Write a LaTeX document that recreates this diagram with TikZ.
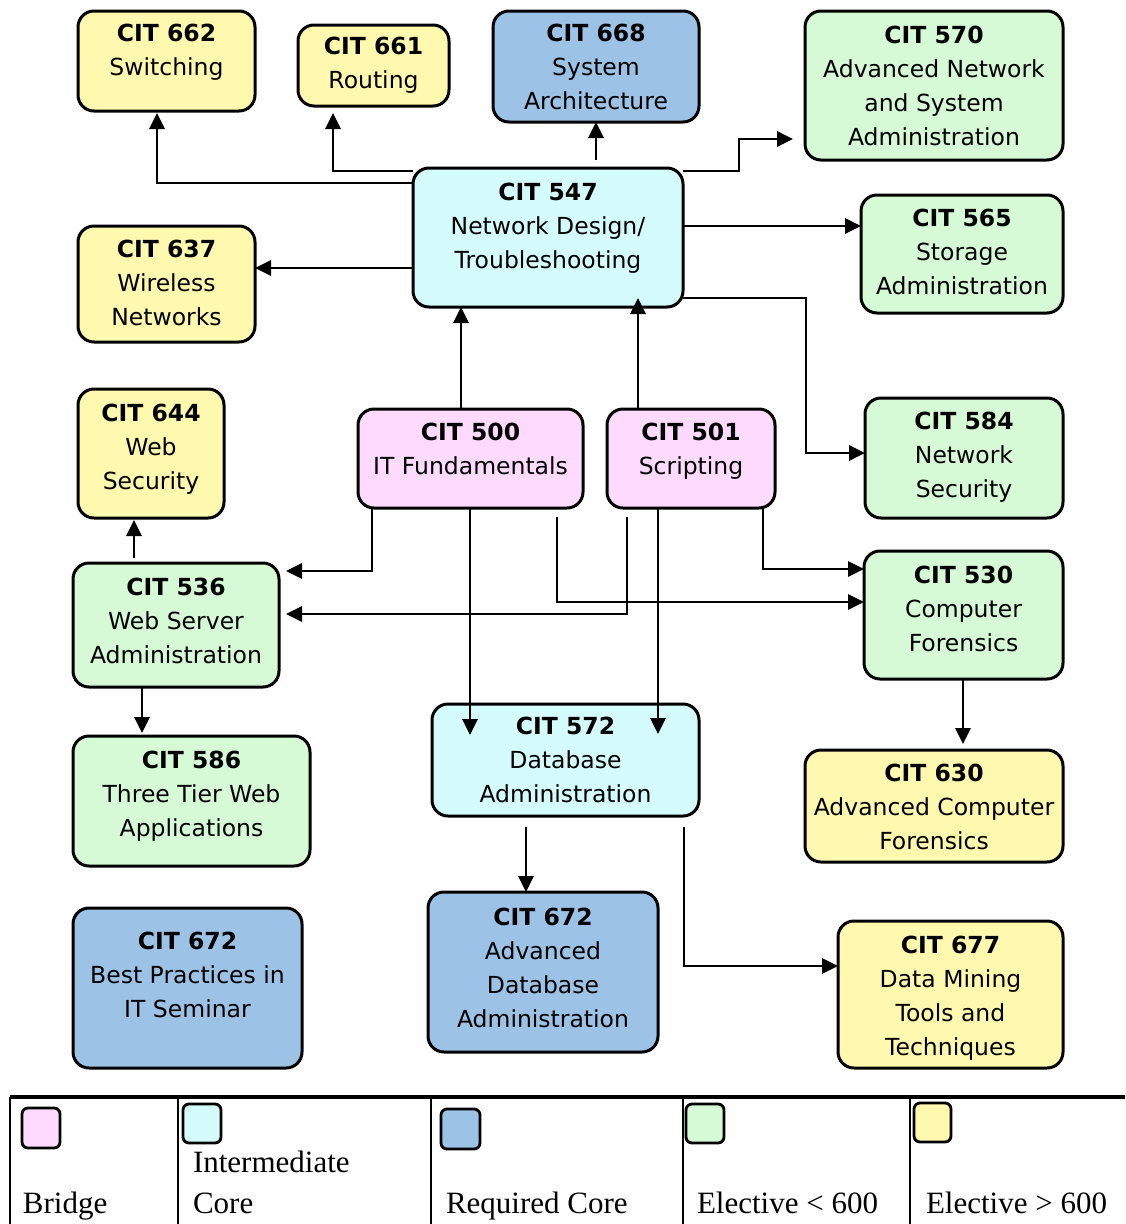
\documentclass[tikz,border=0pt]{standalone}
\usepackage{fontspec}
\setmainfont{DejaVu Sans}
\newfontfamily\legfont{Liberation Serif}
\usetikzlibrary{arrows.meta,calc}
\definecolor{cyel}{HTML}{FFF9AF}
\definecolor{cblu}{HTML}{9CC2E5}
\definecolor{cgrn}{HTML}{D6F9D6}
\definecolor{ccya}{HTML}{D5FCFD}
\definecolor{cpnk}{HTML}{FEDAFE}
\tikzset{
  box/.style={draw=black, line width=3pt, rounded corners=16pt, inner sep=0pt, outer sep=0pt, rectangle},
  ctext/.style={inner sep=0pt, outer sep=0pt, align=center, font=\fontsize{23.5}{34}\selectfont},
  arr/.style={line width=2.8pt, -{Triangle[length=16pt,width=15pt]}},
  swatch/.style={draw=black, line width=2.8pt, rounded corners=6pt, inner sep=0pt, outer sep=0pt, rectangle},
  legtext/.style={inner sep=0pt, outer sep=0pt, anchor=base west, font=\legfont\fontsize{31}{36}\selectfont},
}
\newcommand\course[8]{%
  \node[box,#7,minimum width={(#4-#2)*1pt},minimum height={(#5-#3)*1pt}] (#1) at ({(#2+#4)/2},{(#3+#5)/2}) {};
  \node[ctext,anchor=north] (#1-t) at ({(#2+#4)/2},{#6-18}) {\rule{0pt}{18pt}#8};
}
\newcommand\legbox[6]{%
  \node[swatch,#6,minimum width={(#4-#2)*1pt},minimum height={(#5-#3)*1pt}] (#1) at ({(#2+#4)/2},{(#3+#5)/2}) {};
}
\begin{document}
\begin{tikzpicture}[x=1pt,y=-1pt]
\fill[white] (0,0) rectangle (1125,1224);
\useasboundingbox (0,0) rectangle (1125,1224);

\course{c662}{78}{11}{255}{111}{41}{fill=cyel}{\textbf{CIT 662}\\Switching}
\course{c661}{298}{25}{449}{106}{54}{fill=cyel}{\textbf{CIT 661}\\Routing}
\course{c668}{493}{11}{699}{122}{41}{fill=cblu}{\textbf{CIT 668}\\System\\Architecture}
\course{c570}{805}{11}{1063}{160}{43}{fill=cgrn}{\textbf{CIT 570}\\Advanced Network\\and System\\Administration}
\course{c547}{413}{168}{683}{307}{200}{fill=ccya}{\textbf{CIT 547}\\Network Design/\\Troubleshooting}
\course{c637}{78}{226}{255}{342}{257}{fill=cyel}{\textbf{CIT 637}\\Wireless\\Networks}
\course{c565}{861}{195}{1063}{313}{226}{fill=cgrn}{\textbf{CIT 565}\\Storage\\Administration}
\course{c644}{78}{389}{224}{518}{421}{fill=cyel}{\textbf{CIT 644}\\Web\\Security}
\course{c500}{358}{409}{583}{508}{440}{fill=cpnk}{\textbf{CIT 500}\\IT Fundamentals}
\course{c501}{607}{409}{775}{508}{440}{fill=cpnk}{\textbf{CIT 501}\\Scripting}
\course{c584}{865}{398}{1063}{518}{429}{fill=cgrn}{\textbf{CIT 584}\\Network\\Security}
\course{c536}{73}{563}{279}{687}{595}{fill=cgrn}{\textbf{CIT 536}\\Web Server\\Administration}
\course{c530}{864}{551}{1063}{679}{583}{fill=cgrn}{\textbf{CIT 530}\\Computer\\Forensics}
\course{c586}{73}{736}{310}{866}{768}{fill=cgrn}{\textbf{CIT 586}\\Three Tier Web\\Applications}
\course{c572}{432}{704}{699}{816}{734}{fill=ccya}{\textbf{CIT 572}\\Database\\Administration}
\course{c630}{805}{750}{1063}{862}{781}{fill=cyel}{\textbf{CIT 630}\\Advanced Computer\\Forensics}
\course{c672a}{73}{908}{302}{1068}{949}{fill=cblu}{\textbf{CIT 672}\\Best Practices in\\IT Seminar}
\course{c672b}{428}{892}{658}{1052}{925}{fill=cblu}{\textbf{CIT 672}\\Advanced\\Database\\Administration}
\course{c677}{838}{921}{1063}{1068}{953}{fill=cyel}{\textbf{CIT 677}\\Data Mining\\Tools and\\Techniques}

% connectors from CIT 547
\draw[arr] ($(c547.north west)+(0,15)$) -| ($(c662.south west)+(79,2)$);
\draw[arr] ($(c547.north west)+(0,3)$) -| ($(c661.south west)+(35,7)$);
\draw[arr] ($(c547.north west)+(183,-8)$) -- ($(c668.south west)+(103,0)$);
\draw[arr] ($(c547.north east)+(0,3)$) -- ++(56,0) |- ($(c570.south west)+(-12,-21)$);
\draw[arr] ($(c547.north east)+(0,58)$) -- ($(c565.north west)+(0,31)$);
\draw[arr] ($(c547.south east)+(0,-9)$) -- ++(123,0) |- ($(c584.north west)+(0,55)$);
\draw[arr] ($(c547.north west)+(0,100)$) -- ($(c637.north east)+(0,42)$);
% into CIT 547
\draw[arr] ($(c500.north west)+(103,0)$) -- ($(c547.south west)+(48,0)$);
\draw[arr] ($(c501.north west)+(31,0)$) -- ($(c547.south west)+(225,-9)$);
% from CIT 500 / 501
\draw[arr] ($(c500.south west)+(14,0)$) |- ($(c536.north east)+(7,8)$);
\draw[arr] ($(c501.south west)+(20,9)$) |- ($(c536.north east)+(7,51)$);
\draw[arr] ($(c500.south west)+(199,9)$) |- ($(c530.north west)+(0,51)$);
\draw[arr] ($(c501.south east)+(-12,0)$) |- ($(c530.north west)+(0,18)$);
\draw[arr] ($(c500.south west)+(112,0)$) -- ($(c572.north west)+(38,31)$);
\draw[arr] ($(c501.south west)+(51,0)$) -- ($(c572.north west)+(226,30)$);
% others
\draw[arr] ($(c536.north west)+(61,-5)$) -- ($(c644.south west)+(56,2)$);
\draw[arr] ($(c536.south west)+(69,0)$) -- ($(c586.north west)+(69,-3)$);
\draw[arr] ($(c530.south west)+(99,0)$) -- ($(c630.north west)+(158,-6)$);
\draw[arr] ($(c572.south west)+(94,11)$) -- ($(c672b.north west)+(98,0)$);
\draw[arr] ($(c572.south east)+(-15,11)$) |- ($(c677.north west)+(0,45)$);

% legend
\draw[line width=3.5pt] (10,1097) -- (1125,1097);
\foreach \lx in {10,178,431,683,910} {\draw[line width=2.4pt] (\lx,1097) -- (\lx,1224);}
\legbox{lg1}{22}{1108}{60}{1148}{fill=cpnk}
\legbox{lg2}{183}{1104}{221}{1143}{fill=ccya}
\legbox{lg3}{441}{1109}{480}{1149}{fill=cblu}
\legbox{lg4}{686}{1104}{724}{1143}{fill=cgrn}
\legbox{lg5}{914}{1103}{951}{1142}{fill=cyel}
\node[legtext] (lt1) at (23,1213) {Bridge};
\node[legtext] (lt2a) at (193,1172) {Intermediate};
\node[legtext] (lt2b) at (193,1213) {Core};
\node[legtext] (lt3) at (446,1213) {Required Core};
\node[legtext] (lt4) at (697,1213) {Elective < 600};
\node[legtext] (lt5) at (926,1213) {Elective > 600};
\end{tikzpicture}
\end{document}
